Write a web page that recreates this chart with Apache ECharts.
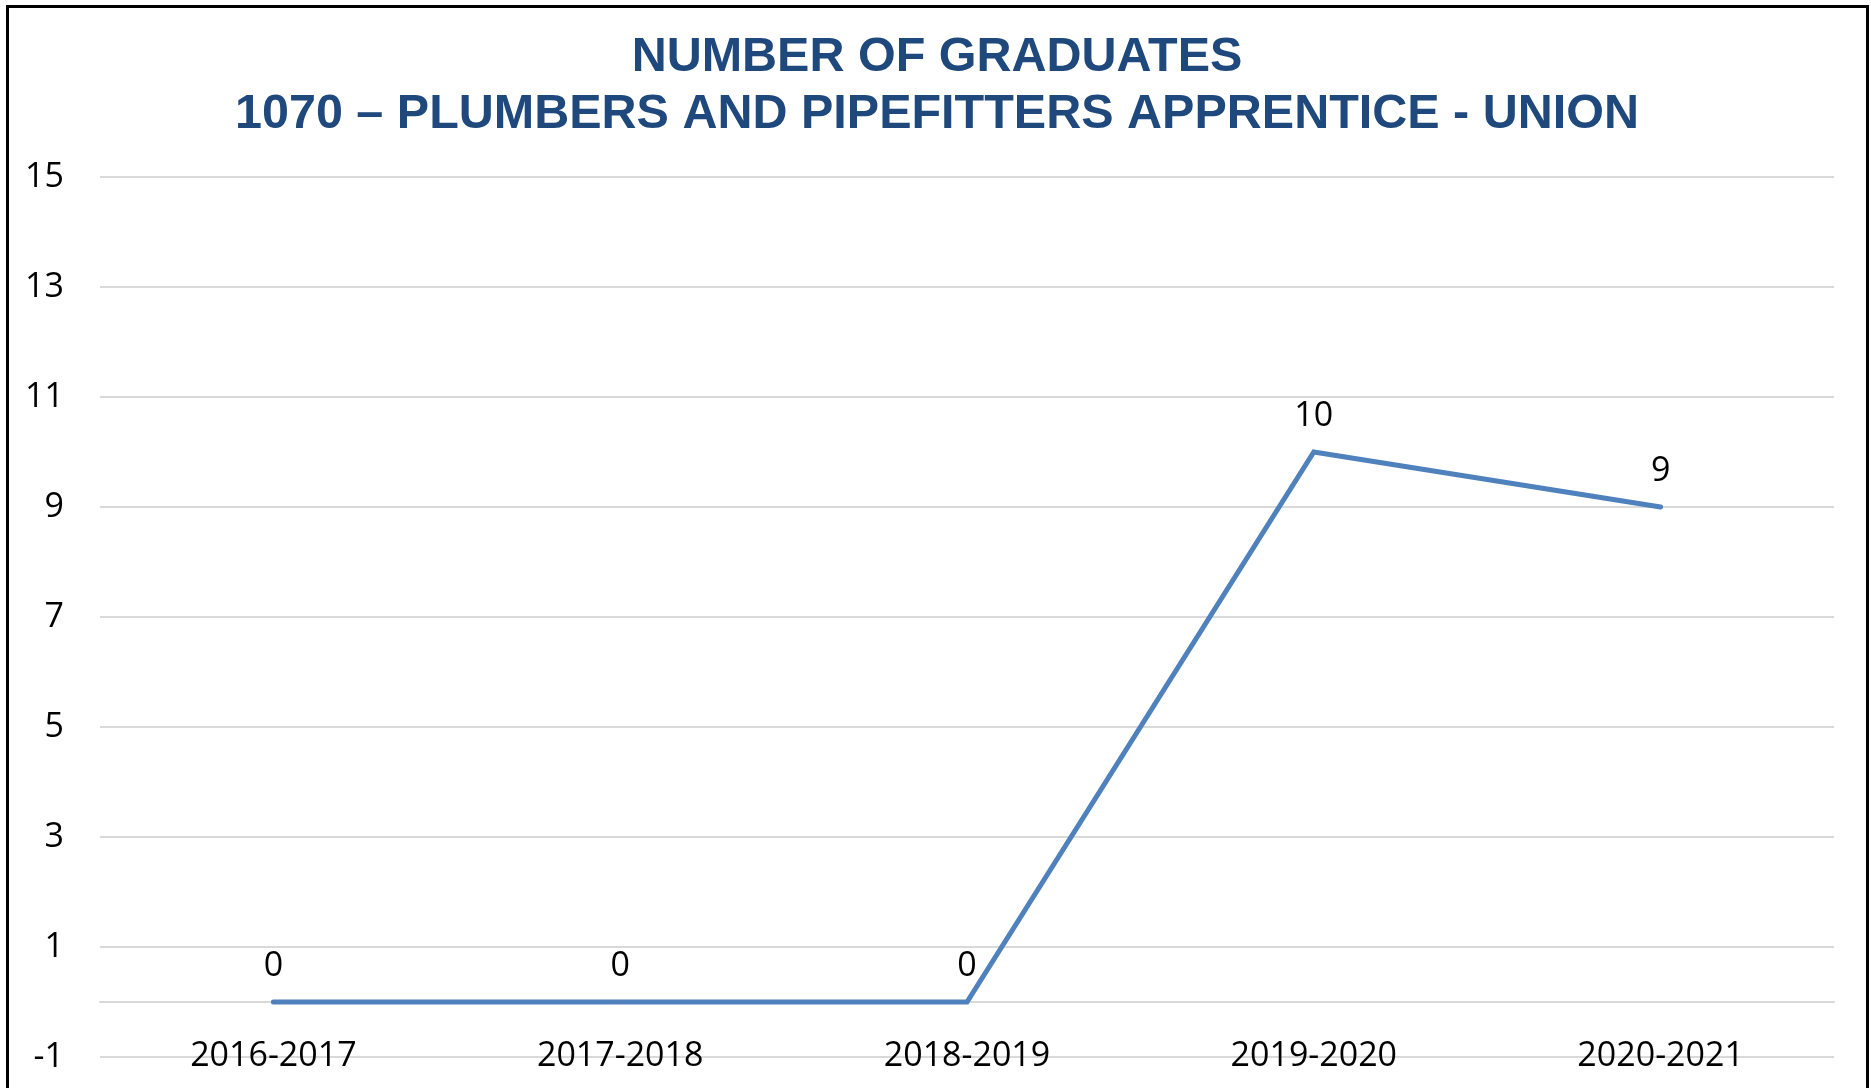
<!DOCTYPE html>
<html>
<head>
<meta charset="utf-8">
<script src="https://cdn.jsdelivr.net/npm/echarts@6/dist/echarts.min.js"></script>
<style>
  html, body { margin: 0; padding: 0; background: #fff; }
  #chart { width: 1871px; height: 1088px; position: absolute; left: 0; top: 0; }
  #frame { position: absolute; left: 6px; top: 5px; width: 1857px; height: 1100px;
           border: 3px solid #000; border-bottom: none; pointer-events: none; }
</style>
</head>
<body>
<div id="chart"></div>
<div id="frame"></div>
<script>
const titleLines = ['NUMBER OF GRADUATES', '1070 – PLUMBERS AND PIPEFITTERS APPRENTICE - UNION'];
const categories = ['2016-2017', '2017-2018', '2018-2019', '2019-2020', '2020-2021'];
const graduates = [0, 0, 0, 10, 9];
const yMin = -1, yMax = 15, yInterval = 2;

const chart = echarts.init(document.getElementById('chart'));
const textFont = '"Open Sans", "Noto Sans", sans-serif';
chart.setOption({
  backgroundColor: '#ffffff',
  animation: false,
  title: {
    text: titleLines.join('\n'),
    left: 937,
    top: 29,
    padding: 0,
    textAlign: 'center',
    textStyle: {
      fontFamily: '"Liberation Sans", Arial, sans-serif',
      fontWeight: 'bold',
      fontSize: 48.5,
      lineHeight: 57,
      color: '#1F497D'
    }
  },
  grid: { left: 100, right: 37, top: 177, bottom: 31, outerBoundsMode: 'none' },
  xAxis: {
    type: 'category',
    data: categories,
    boundaryGap: true,
    axisLine: { onZero: true, lineStyle: { color: '#d9d9d9', width: 2 } },
    axisTick: { show: false },
    axisLabel: { margin: -18, fontFamily: textFont, fontSize: 34, color: '#000' },
    splitLine: { show: false }
  },
  yAxis: {
    type: 'value',
    min: yMin,
    max: yMax,
    interval: yInterval,
    axisLine: { show: false },
    axisTick: { show: false },
    axisLabel: { margin: 36, fontFamily: textFont, fontSize: 34, color: '#000' },
    splitLine: { lineStyle: { color: '#d9d9d9', width: 2 } }
  },
  series: [{
    type: 'line',
    data: graduates,
    symbol: 'circle',
    symbolSize: 1,
    itemStyle: { color: '#4F81BD' },
    lineStyle: { color: '#4F81BD', width: 5, cap: 'round', join: 'miter' },
    label: {
      show: true,
      position: 'top',
      distance: 18,
      fontFamily: textFont,
      fontSize: 34,
      color: '#000'
    }
  }]
});
</script>
</body>
</html>
